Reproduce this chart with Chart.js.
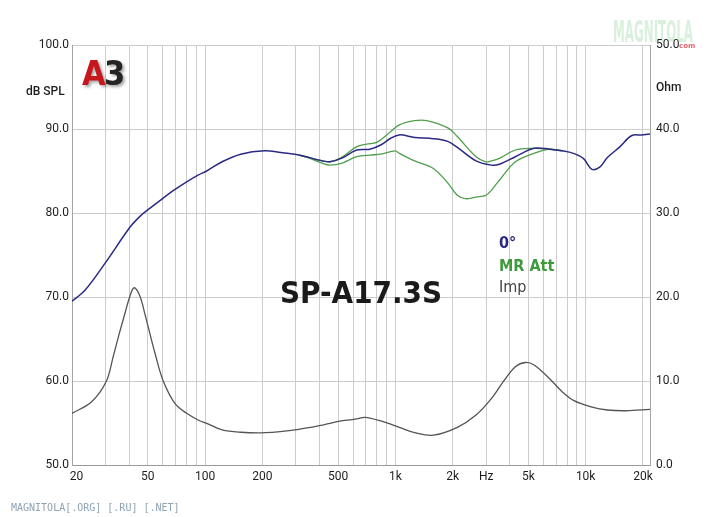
<!DOCTYPE html>
<html>
<head>
<meta charset="utf-8">
<script src="https://cdn.jsdelivr.net/npm/chart.js@4.4.1/dist/chart.umd.min.js"></script>
<style>
  html, body { margin: 0; padding: 0; background: #ffffff; }
  #wrap { width: 713px; height: 517px; position: relative; }
</style>
</head>
<body>
<div id="wrap"><canvas id="c" width="713" height="517"></canvas></div>
<script>
// ---- data ----
const spl0Freq = [20, 23.4, 29.8, 40.3, 45.5, 50.2, 60.1, 69.6, 80.1, 91.9, 102, 123, 154, 206, 250, 311, 415, 454, 520, 627, 734, 838, 946, 1050, 1264, 1584, 1898, 2117, 2655, 3194, 3520, 4272, 5355, 6446, 7540, 8618, 9726, 10800, 11900, 13000, 15160, 17390, 19620, 21780];
const spl0Db   = [69.5, 70.8, 74.0, 78.3, 79.6, 80.4, 81.75, 82.8, 83.7, 84.5, 85.0, 86.1, 87.0, 87.4, 87.2, 86.9, 86.2, 86.1, 86.5, 87.5, 87.6, 88.1, 88.9, 89.3, 89.0, 88.85, 88.5, 87.8, 86.2, 85.7, 85.8, 86.7, 87.7, 87.6, 87.4, 87.1, 86.5, 85.2, 85.5, 86.6, 87.9, 89.2, 89.3, 89.4];

const mrHighFreq = [311, 415, 454, 520, 627, 707, 798, 946, 1050, 1264, 1462, 1898, 2117, 2655, 2986, 3194, 3520, 4272, 5355, 5995, 6446, 7540];
const mrHighDb   = [86.9, 86.2, 86.1, 86.6, 87.9, 88.2, 88.4, 89.7, 90.5, 91.0, 91.0, 90.1, 89.1, 86.7, 86.1, 86.2, 86.5, 87.5, 87.7, 87.65, 87.6, 87.4];

const mrLowFreq = [311, 356, 415, 454, 520, 627, 734, 838, 996, 1050, 1264, 1584, 1898, 2117, 2332, 2655, 2986, 3194, 3520, 4272, 5355, 6446, 7540];
const mrLowDb   = [86.9, 86.5, 85.9, 85.7, 85.9, 86.7, 86.9, 87.0, 87.4, 87.1, 86.2, 85.3, 83.5, 82.1, 81.7, 81.9, 82.1, 82.7, 83.9, 86.1, 87.1, 87.6, 87.4];

const impFreq = [20, 25.3, 30.2, 33, 35.2, 38, 40.3, 42.4, 45.5, 48.4, 50.2, 54.6, 60.1, 69.6, 80.1, 91.9, 102, 123, 154, 206, 311, 415, 520, 627, 693, 838, 1050, 1264, 1584, 2117, 2655, 3194, 3740, 4272, 4820, 5355, 6446, 7540, 8618, 10800, 13000, 16300, 21780];
const impOhm  = [6.15, 7.5, 9.9, 13.0, 15.4, 18.1, 20.1, 21.1, 20.1, 17.9, 16.5, 13.3, 10.1, 7.3, 6.15, 5.36, 4.96, 4.17, 3.9, 3.85, 4.25, 4.76, 5.24, 5.48, 5.67, 5.24, 4.48, 3.85, 3.55, 4.48, 5.95, 7.9, 10.1, 11.7, 12.2, 11.9, 10.3, 8.7, 7.7, 6.9, 6.55, 6.46, 6.63];

const xTickValues = [20, 30, 40, 50, 60, 70, 80, 90, 100, 200, 300, 400, 500, 600, 700, 800, 900, 1000, 2000, 3000, 4000, 5000, 6000, 7000, 8000, 9000, 10000, 20000];
const xTickLabels = ['20', '', '', '50', '', '', '', '', '100', '200', '', '', '500', '', '', '', '', '1k', '2k', 'Hz', '', '5k', '', '', '', '', '10k', '20k'];

const chartTitle = 'SP-A17.3S';
const legendItems = ['0°', 'MR Att', 'Imp'];

function pts(xs, ys) { return xs.map((x, i) => ({ x: x, y: ys[i] })); }

const BLUE = '#2b2a84';
const GREEN = '#4f9f4c';
const GREY = '#545454';

const annotations = {
  id: 'annotations',
  afterDatasetsDraw(chart) {
    const ctx = chart.ctx;
    ctx.save();
    ctx.fillStyle = '#1e1e1e';
    ctx.font = '500 12px Roboto, "DejaVu Sans", sans-serif';
    ctx.textBaseline = 'alphabetic';
    ctx.textAlign = 'left';
    ctx.fillText('dB SPL', 26, 95);
    ctx.fillText('Ohm', 656, 91);

    ctx.fillStyle = '#1a1a1a';
    ctx.font = 'bold 31px "DejaVu Sans Condensed", "DejaVu Sans", sans-serif';
    ctx.fillText(chartTitle, 280, 303);

    ctx.font = 'bold 16px "DejaVu Sans Condensed", "DejaVu Sans", sans-serif';
    ctx.fillStyle = BLUE;
    ctx.fillText(legendItems[0], 499, 248);
    ctx.fillStyle = '#3f9a3c';
    ctx.fillText(legendItems[1], 499, 271);
    ctx.font = '16px "DejaVu Sans Condensed", "DejaVu Sans", sans-serif';
    ctx.fillStyle = '#444444';
    ctx.fillText(legendItems[2], 499, 292);

    ctx.font = 'bold 34px "DejaVu Sans Condensed", "DejaVu Sans", sans-serif';
    ctx.shadowColor = 'rgba(0,0,0,0.35)';
    ctx.shadowBlur = 3;
    ctx.shadowOffsetX = 2;
    ctx.shadowOffsetY = 2;
    ctx.fillStyle = '#242424';
    ctx.fillText('3', 104, 85);
    ctx.fillStyle = '#c8161d';
    ctx.fillText('A', 82, 85);
    ctx.shadowColor = 'transparent';

    ctx.font = 'bold 30px "DejaVu Sans Condensed", "DejaVu Sans", sans-serif';
    ctx.fillStyle = 'rgba(120,200,130,0.28)';
    ctx.fillText('MAGNITOLA', 613, 42, 80);
    ctx.font = 'bold 7px "DejaVu Sans", sans-serif';
    ctx.fillStyle = 'rgba(220,60,70,0.8)';
    ctx.fillText('com', 679, 48);

    ctx.font = '10px "DejaVu Sans Mono", monospace';
    ctx.fillStyle = '#8ea3b3';
    ctx.fillText('MAGNITOLA[.ORG] [.RU] [.NET]', 11, 511);
    ctx.restore();
  }
};

const lineStyle = { pointRadius: 0, fill: false, tension: 0.35 };

new Chart(document.getElementById('c'), {
  type: 'line',
  data: {
    datasets: [
      Object.assign({ label: '0°', data: pts(spl0Freq, spl0Db), yAxisID: 'y', borderColor: BLUE, borderWidth: 1.5 }, lineStyle),
      Object.assign({ label: 'MR Att', data: pts(mrHighFreq, mrHighDb), yAxisID: 'y', borderColor: GREEN, borderWidth: 1.3 }, lineStyle),
      Object.assign({ label: 'MR Att low', data: pts(mrLowFreq, mrLowDb), yAxisID: 'y', borderColor: GREEN, borderWidth: 1.3 }, lineStyle),
      Object.assign({ label: 'Imp', data: pts(impFreq, impOhm), yAxisID: 'y1', borderColor: GREY, borderWidth: 1.3 }, lineStyle)
    ]
  },
  options: {
    responsive: false,
    devicePixelRatio: 1,
    animation: false,
    events: [],
    layout: { padding: { top: 45, left: 0, right: 0, bottom: 0 } },
    plugins: { legend: { display: false }, tooltip: { enabled: false }, title: { display: false } },
    scales: {
      x: {
        type: 'logarithmic',
        min: 20,
        max: 21780,
        afterBuildTicks: (axis) => { axis.ticks = xTickValues.map(v => ({ value: v })); },
        afterFit: (axis) => { axis.height = 52; },
        ticks: {
          autoSkip: false, maxRotation: 0, minRotation: 0, padding: 5,
          color: '#1e1e1e',
          font: { family: 'Roboto, "DejaVu Sans", sans-serif', size: 12 },
          callback: (value) => {
            const i = xTickValues.indexOf(value);
            if (i < 0) return '';
            return i === 0 ? '   ' + xTickLabels[i] : xTickLabels[i];
          }
        },
        grid: { color: '#cdcdcd', lineWidth: 1, drawTicks: false },
        border: { display: true, color: '#9a9a9a' }
      },
      y: {
        type: 'linear',
        position: 'left',
        min: 50, max: 100,
        afterFit: (axis) => { axis.width = 72; },
        ticks: {
          stepSize: 10, padding: 3, color: '#1e1e1e',
          font: { family: 'Roboto, "DejaVu Sans", sans-serif', size: 12 },
          callback: (v) => Number(v).toFixed(1)
        },
        grid: { color: '#cdcdcd', lineWidth: 1, drawTicks: false },
        border: { display: true, color: '#a5a5a5' }
      },
      y1: {
        type: 'linear',
        position: 'right',
        min: 0, max: 50,
        afterFit: (axis) => { axis.width = 63; },
        ticks: {
          stepSize: 10, padding: 6, color: '#1e1e1e',
          font: { family: 'Roboto, "DejaVu Sans", sans-serif', size: 12 },
          callback: (v) => Number(v).toFixed(1)
        },
        grid: { display: false, drawTicks: false },
        border: { display: true, color: '#a5a5a5' }
      }
    }
  },
  plugins: [annotations]
});
</script>
</body>
</html>
